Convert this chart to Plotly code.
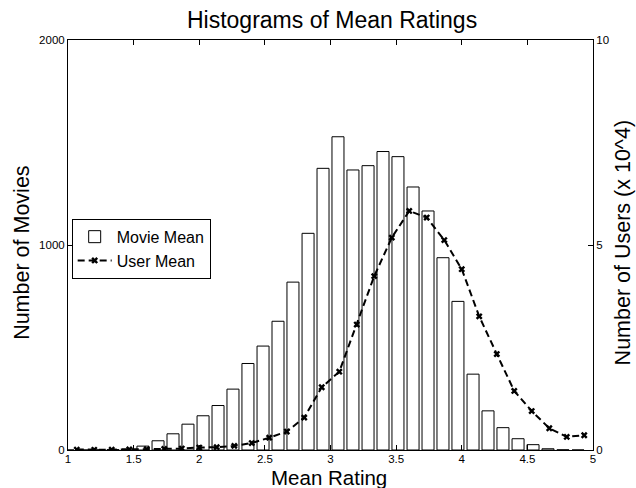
import plotly.graph_objects as go

# Movie mean histogram (bin centers, counts)
movie_bins = [1.000, 1.114, 1.229, 1.343, 1.457, 1.571, 1.686, 1.800, 1.914, 2.029,
              2.143, 2.257, 2.371, 2.486, 2.600, 2.714, 2.829, 2.943, 3.057, 3.171,
              3.286, 3.400, 3.514, 3.629, 3.743, 3.857, 3.971, 4.086, 4.200, 4.314,
              4.429, 4.543, 4.657, 4.771, 4.886]
movie_counts = [0, 0, 1, 2, 5, 19, 45, 79, 126, 167,
                217, 297, 422, 507, 628, 819, 1057, 1374, 1528, 1366,
                1387, 1456, 1431, 1283, 1166, 938, 725, 370, 191, 109,
                55, 26, 6, 1, 0]

# User mean histogram (bin centers, users x 10^4)
user_bins = [1.067, 1.200, 1.333, 1.467, 1.600, 1.733, 1.867, 2.000, 2.133, 2.267,
             2.400, 2.533, 2.667, 2.800, 2.933, 3.067, 3.200, 3.333, 3.467, 3.600,
             3.733, 3.867, 4.000, 4.133, 4.267, 4.400, 4.533, 4.667, 4.800, 4.933]
user_counts = [0.01, 0.005, 0.008, 0.015, 0.02, 0.025, 0.035, 0.06, 0.07, 0.10,
               0.17, 0.30, 0.45, 0.79, 1.53, 1.91, 3.06, 4.24, 5.18, 5.83,
               5.67, 5.12, 4.41, 3.26, 2.34, 1.44, 0.95, 0.53, 0.32, 0.36]

x_ticks = [1, 1.5, 2, 2.5, 3, 3.5, 4, 4.5, 5]
y_ticks = [0, 1000, 2000]
y2_ticks = [0, 5, 10]

FONT = "Liberation Sans, Arial, Helvetica, sans-serif"
TITLE_SIZE = 21.5

fig = go.Figure()
fig.add_trace(go.Bar(
    x=movie_bins, y=movie_counts, name="Movie Mean",
    width=0.0914,
    marker=dict(color="white", line=dict(color="black", width=1)),
    yaxis="y",
))
fig.add_trace(go.Scatter(
    x=user_bins, y=user_counts, name="User Mean",
    mode="lines+markers",
    line=dict(color="black", width=2, dash="7px,4px"),
    marker=dict(symbol="x", size=6, color="black"),
    yaxis="y2",
))

fig.update_layout(
    width=636, height=488,
    margin=dict(l=68, r=43, t=40, b=38, autoexpand=False),
    paper_bgcolor="white", plot_bgcolor="white",
    font=dict(family=FONT, color="black", size=11.5),
    title=dict(text="Histograms of Mean Ratings", x=0.503, xanchor="center",
               xref="paper", yref="container",
               y=0.959, yanchor="middle", font=dict(size=23, family=FONT)),
    showlegend=True,
    legend=dict(x=0.007, y=0.564, xanchor="left", yanchor="top",
                bordercolor="black", borderwidth=1, bgcolor="white",
                font=dict(size=16, family=FONT), tracegroupgap=0,
                itemwidth=34),
    xaxis=dict(range=[1, 5], tickvals=x_ticks, ticktext=[str(v) for v in x_ticks],
               ticks="inside", ticklen=5, tickcolor="black", ticklabelstandoff=-2,
               showline=True, linecolor="black", linewidth=1, mirror="ticks",
               showgrid=False, zeroline=False, automargin=False),
    yaxis=dict(range=[0, 2000], tickvals=y_ticks, ticks="inside", ticklen=5,
               tickcolor="black", showline=True, linecolor="black", linewidth=1,
               showgrid=False, zeroline=False, automargin=False),
    yaxis2=dict(range=[0, 10], tickvals=y2_ticks, ticks="inside", ticklen=5,
                tickcolor="black", showline=True, linecolor="black", linewidth=1,
                overlaying="y", side="right", showgrid=False, zeroline=False,
                automargin=False),
    bargap=0.2,
    annotations=[
        dict(text="Mean Rating", xref="paper", yref="paper", x=0.4976, y=-0.0665,
             xanchor="center", yanchor="middle", showarrow=False,
             font=dict(size=20.5, family=FONT)),
        dict(text="Number of Movies", xref="paper", yref="paper", x=-0.0867, y=0.482,
             xanchor="center", yanchor="middle", showarrow=False, textangle=-90,
             font=dict(size=TITLE_SIZE, family=FONT)),
        dict(text="Number of Users (x 10^4)", xref="paper", yref="paper", x=1.0572, y=0.504,
             xanchor="center", yanchor="middle", showarrow=False, textangle=-90,
             font=dict(size=TITLE_SIZE, family=FONT)),
    ],
)

fig.write_html("out.html")
